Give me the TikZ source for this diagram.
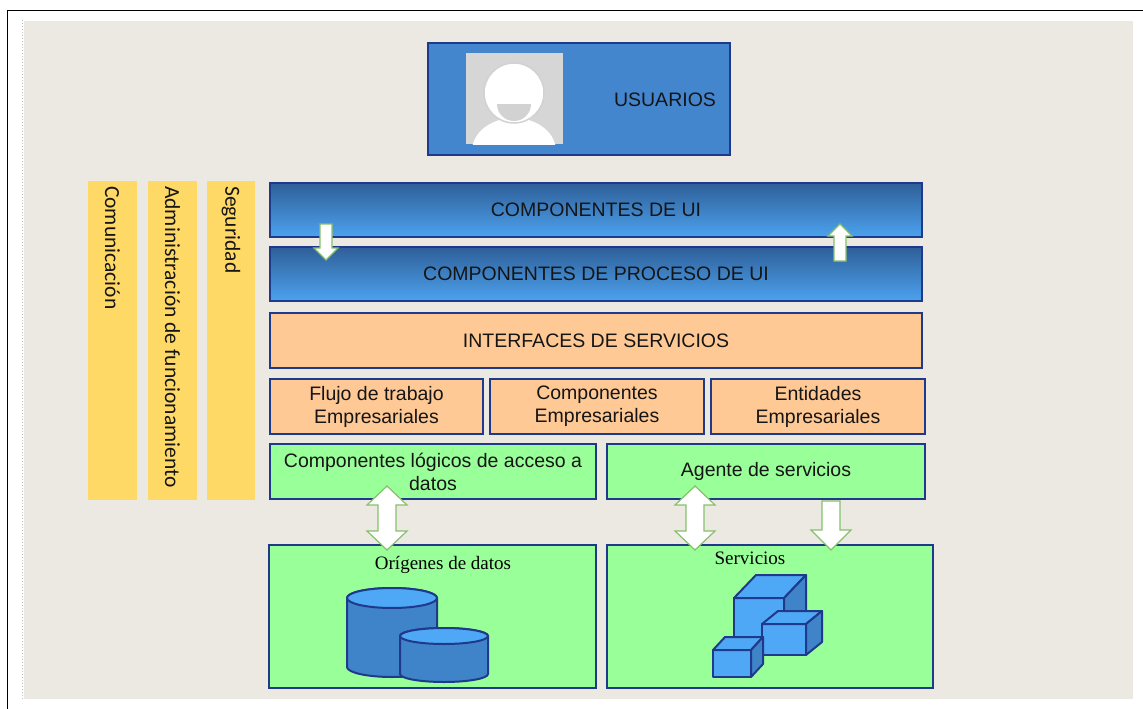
\documentclass[tikz,border=0pt]{standalone}
\usepackage{fontspec}
\setmainfont{Liberation Sans}
\newfontfamily\calib{Carlito}
\newfontfamily\serf{Liberation Serif}
\definecolor{bgbeige}{HTML}{ECE9E3}
\definecolor{navy}{HTML}{1F3A8A}
\definecolor{usrblue}{HTML}{4486CE}
\definecolor{topblue}{HTML}{2F5F99}
\definecolor{botblue}{HTML}{4CA2EE}
\definecolor{peach}{HTML}{FFC995}
\definecolor{lgreen}{HTML}{99FF99}
\definecolor{yel}{HTML}{FFD966}
\definecolor{arrgreen}{HTML}{86C06C}
\definecolor{cyldark}{HTML}{3F84C8}
\definecolor{cyllight}{HTML}{4EA8F5}
\definecolor{txt}{HTML}{151515}
\definecolor{icongray}{HTML}{D6D6D6}
\begin{document}
\begin{tikzpicture}[x=1pt,y=-1pt,
  box/.style={draw=navy, line width=2.4pt, inner sep=0pt, outer sep=0pt, align=center,
     text=txt, font=\fontsize{19.5}{23}\selectfont},
  bluebox/.style={box, top color=topblue, bottom color=botblue},
  peachbox/.style={box, fill=peach},
  greenbox/.style={box, fill=lgreen},
  yelbar/.style={fill=yel, inner sep=0pt, outer sep=0pt, minimum height=319pt},
  yeltext/.style={rotate=-90, anchor=west, text=txt, font=\calib\fontsize{21.5}{25}\selectfont, inner sep=0pt},
  blockarrow/.style={fill=white, draw=arrgreen, line width=1.2pt, line join=miter},
  solid3d/.style={draw=navy, line width=2pt, line join=round}
]
\useasboundingbox (0,0) rectangle (1143,709);
\fill[white] (0,0) rectangle (1143,709);
% frame
\draw[black, line width=1.2pt] (7.5,709) -- (7.5,10.5) -- (1143,10.5);
\draw[gray!50, line width=1pt, dotted] (22,20) -- (22,699);
\fill[bgbeige] (24,21) rectangle (1133,699);

% yellow bars
\node[yelbar, minimum width=49pt] (com) at (112.5,340.5) {};
\node[yelbar, minimum width=49pt] (adm) at (172.5,340.5) {};
\node[yelbar, minimum width=48pt] (seg) at (231,340.5) {};
\node[yeltext] (comt) at (112.5,186) {Comunicación};
\node[yeltext] (admt) at (172.5,186) {Administración de funcionamiento};
\node[yeltext] (segt) at (231,186) {Seguridad};

% usuarios
\node[box, fill=usrblue, minimum width=302pt, minimum height=112pt] (usr) at (579,99) {};
\node[text=txt, font=\fontsize{19.5}{23}\selectfont] (usrt) at (665,100) {USUARIOS};
\begin{scope}
  \clip (466,53) rectangle (563,144);
  \fill[icongray] (466,53) rectangle (563,144);
  \fill[white] (514,151) ellipse [x radius=42pt, y radius=33pt];
  \draw[gray!35, line width=1.5pt, fill=white] (514,93) circle [radius=30pt];
  \fill[gray!35] (497,104) -- (531,104) arc (0:-180:17pt and 17pt) -- cycle;
\end{scope}

% blue layers
\node[bluebox, minimum width=652pt, minimum height=54pt] (ui) at (596,210) {COMPONENTES DE UI};
\node[bluebox, minimum width=652pt, minimum height=54pt] (proc) at (596,274) {COMPONENTES DE PROCESO DE UI};

% peach layers
\node[peachbox, minimum width=652pt, minimum height=55pt] (intf) at (596,340.5) {INTERFACES DE SERVICIOS};
\node[peachbox, minimum width=213pt, minimum height=55pt] (flujo) at (376.5,406.5) {Flujo de trabajo\\Empresariales};
\node[peachbox, minimum width=214pt, minimum height=55pt] (compe) at (597,406.5) {Componentes\\Empresariales};
\node[peachbox, minimum width=214pt, minimum height=55pt] (ent) at (818,406.5) {Entidades\\Empresariales};

% green layers
\node[greenbox, minimum width=326pt, minimum height=55pt] (dal) at (433,471.5) {Componentes lógicos de acceso a\\datos};
\node[greenbox, minimum width=318pt, minimum height=55pt] (agente) at (766,471.5) {Agente de servicios};
\node[greenbox, minimum width=327pt, minimum height=143pt] (orig) at (432.5,616.5) {};
\node[greenbox, minimum width=326pt, minimum height=143pt] (serv) at (770,616.5) {};
\node[text=black, font=\serf\fontsize{19}{22}\selectfont] (origt) at (443,565) {Orígenes de datos};
\node[text=black, font=\serf\fontsize{19}{22}\selectfont] (servt) at (750,558) {Servicios};

% cylinders
\draw[solid3d, fill=cyldark] (347,598) -- (347,667) arc (180:360:45pt and 10pt) -- (437,598) arc (0:180:45pt and 10pt) -- cycle;
\draw[solid3d, fill=cyllight] (392,598) ellipse [x radius=45pt, y radius=10pt];
\draw[solid3d, fill=cyldark] (400,636) -- (400,674) arc (180:360:44pt and 8pt) -- (488,636) arc (0:180:44pt and 8pt) -- cycle;
\draw[solid3d, fill=cyllight] (444,636) ellipse [x radius=44pt, y radius=8pt];

% cubes
\draw[solid3d, fill=cyllight] (734,598) rectangle (784,648);
\draw[solid3d, fill=cyllight] (734,598) -- (784,598) -- (806,575) -- (756,575) -- cycle;
\draw[solid3d, fill=cyldark] (784,598) -- (806,575) -- (806,625) -- (784,648) -- cycle;
\draw[solid3d, fill=cyllight] (762,624) rectangle (806,655);
\draw[solid3d, fill=cyllight] (762,624) -- (806,624) -- (822,611) -- (778,611) -- cycle;
\draw[solid3d, fill=cyldark] (806,624) -- (822,611) -- (822,642) -- (806,655) -- cycle;
\draw[solid3d, fill=cyllight] (713,650) rectangle (751,677);
\draw[solid3d, fill=cyllight] (713,650) -- (751,650) -- (763,637) -- (725,637) -- cycle;
\draw[solid3d, fill=cyldark] (751,650) -- (763,637) -- (763,664) -- (751,677) -- cycle;

% UI arrows
\draw[blockarrow] (320,224) -- (332,224) -- (332,248) -- (338,248) -- (326,260) -- (314,248) -- (320,248) -- cycle;
\draw[blockarrow] (840,224) -- (852,236) -- (846,236) -- (846,261) -- (834,261) -- (834,236) -- (828,236) -- cycle;

% data/service arrows
\draw[blockarrow] (387,486) -- (407,505) -- (396,505) -- (396,531) -- (407,531) -- (387,550) -- (367,531) -- (378,531) -- (378,505) -- (367,505) -- cycle;
\draw[blockarrow] (695,486) -- (715,505) -- (704,505) -- (704,531) -- (715,531) -- (695,550) -- (675,531) -- (686,531) -- (686,505) -- (675,505) -- cycle;
\draw[blockarrow] (822,501) -- (840,501) -- (840,530) -- (851,530) -- (831,550) -- (811,530) -- (822,530) -- cycle;
\end{tikzpicture}
\end{document}
